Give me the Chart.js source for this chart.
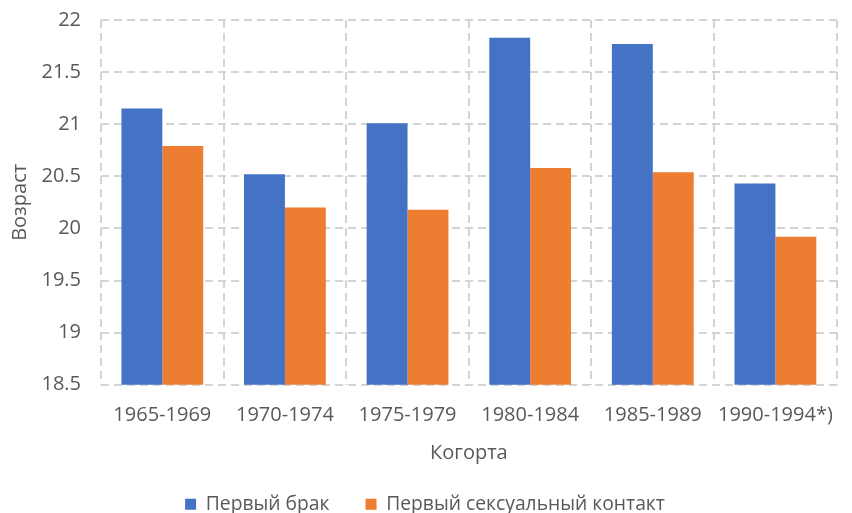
<!DOCTYPE html>
<html>
<head>
<meta charset="utf-8">
<script src="https://cdn.jsdelivr.net/npm/chart.js@4.4.1/dist/chart.umd.min.js"></script>
<style>
  html, body { margin: 0; padding: 0; background: #fff; }
  #wrap { width: 852px; height: 513px; }
</style>
</head>
<body>
<div id="wrap"><canvas id="chart-1"></canvas></div>
<script>
var cohorts = ["1965-1969", "1970-1974", "1975-1979", "1980-1984", "1985-1989", "1990-1994*)"];
var firstMarriage = [21.15, 20.52, 21.01, 21.83, 21.77, 20.43];
var firstSex = [20.79, 20.20, 20.18, 20.58, 20.54, 19.92];
var yMin = 18.5, yMax = 22, yStep = 0.5;

Chart.defaults.font.family = "'Open Sans', sans-serif";
Chart.defaults.color = "#595959";

var gridColor = "#d4d4d4";

var myChart1 = new Chart(document.getElementById("chart-1"), {
  type: "bar",
  data: {
    labels: cohorts,
    datasets: [{
      label: "Первый брак",
      data: firstMarriage,
      backgroundColor: "#4472c4",
      categoryPercentage: 0.667,
      barPercentage: 1.0
    }, {
      label: "Первый сексуальный контакт",
      data: firstSex,
      backgroundColor: "#ed7d31",
      categoryPercentage: 0.667,
      barPercentage: 1.0
    }]
  },
  options: {
    responsive: true,
    maintainAspectRatio: false,
    animation: false,
    layout: {
      padding: { top: 20, right: 2, left: 0, bottom: -11 }
    },
    plugins: {
      tooltip: { enabled: false },
      legend: {
        position: "bottom",
        labels: {
          boxWidth: 11,
          boxHeight: 11,
          padding: 36,
          font: { size: 19.3 },
          color: "#595959"
        }
      }
    },
    scales: {
      x: {
        grid: {
          offset: true,
          color: gridColor,
          lineWidth: 2,
          drawTicks: false
        },
        border: { display: false, dash: [8, 5] },
        ticks: {
          padding: 19,
          font: { size: 20 },
          maxRotation: 0
        },
        title: {
          display: true,
          text: "Когорта",
          font: { size: 20 },
          padding: { top: 13, bottom: -7 }
        },
        afterFit: function (scale) {
          scale.height = 74;
        }
      },
      y: {
        min: yMin,
        max: yMax,
        grid: {
          color: gridColor,
          lineWidth: 2,
          drawTicks: false
        },
        border: { display: false, dash: [8, 5] },
        ticks: {
          stepSize: yStep,
          padding: 20,
          font: { size: 20 },
          callback: function (value) {
            return String(Math.round(value * 10) / 10);
          }
        },
        title: {
          display: true,
          text: "Возраст",
          font: { size: 20 },
          padding: { top: 8, bottom: 9 }
        },
        afterFit: function (scale) {
          scale.width = 101;
          scale.paddingTop = 0;
          scale.paddingBottom = 0;
        }
      }
    }
  }
});
</script>
</body>
</html>
